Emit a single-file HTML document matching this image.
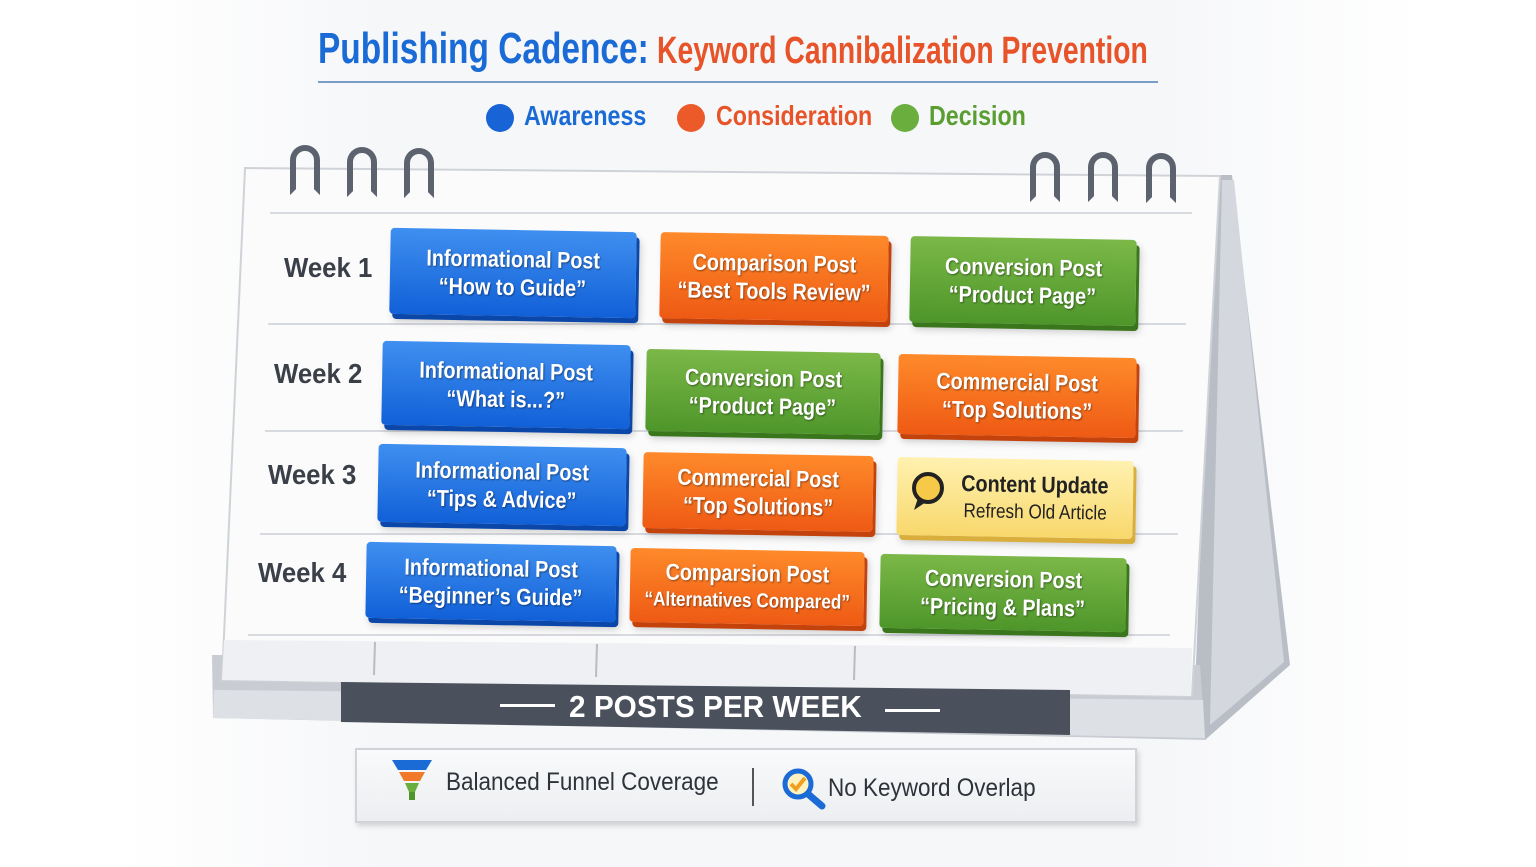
<!DOCTYPE html>
<html><head><meta charset="utf-8"><style>
*{margin:0;padding:0;box-sizing:border-box}
body{width:1536px;height:867px;overflow:hidden;background:#fff;font-family:"Liberation Sans",sans-serif;position:relative}
.bgpanel{position:absolute;left:120px;top:0;width:1300px;height:867px;background:linear-gradient(90deg,#fff,#f6f7f9 20%,#f6f7f9 80%,#fff)}
.abs{position:absolute}
.t{white-space:nowrap;transform-origin:left center;display:inline-block}
.card{position:absolute;border-radius:4px;color:#fff;font-weight:bold;text-align:center;display:flex;flex-direction:column;justify-content:center;align-items:center;text-shadow:1px 1px 2px rgba(0,0,0,.45);box-shadow:3px 5px 0 rgba(0,0,0,.25),4px 7px 8px rgba(0,0,0,.2)}
.card span{display:block;white-space:nowrap;font-size:23px;line-height:28px;transform:scaleX(.86)}
.b{background:linear-gradient(#3f8ff0,#1160d8);box-shadow:3px 5px 0 #0b47a8,4px 7px 8px rgba(0,0,0,.2)}
.o{background:linear-gradient(#ff8a2a,#ee5a14);box-shadow:3px 5px 0 #c4420c,4px 7px 8px rgba(0,0,0,.2)}
.g{background:linear-gradient(#7bb848,#4e962a);box-shadow:3px 5px 0 #3a761c,4px 7px 8px rgba(0,0,0,.2)}
.y{background:linear-gradient(#fff1b0,#f8d86c);box-shadow:3px 5px 0 #d9ae3c,4px 7px 8px rgba(0,0,0,.2);color:#222;text-shadow:none}
.wk{position:absolute;font-size:28px;font-weight:bold;color:#3a3f48;white-space:nowrap;transform:scaleX(.92);transform-origin:left}
.line{position:absolute;height:2px;background:#d6d9de}
.ring{position:absolute;width:30px;height:50px;border:6px solid #5c636e;border-bottom-color:transparent;border-radius:15px 15px 0 0}
</style></head><body>
<div class="bgpanel"></div>

<div class="abs" style="left:318px;top:24px;height:54px">
<span class="t" style="font-size:44px;font-weight:bold;color:#1a6bd6;transform:scaleX(.76);">Publishing Cadence:</span>
</div>
<div class="abs" style="left:657px;top:30px">
<span class="t" style="font-size:38px;font-weight:bold;color:#e8542a;transform:scaleX(.745);">Keyword Cannibalization Prevention</span>
</div>
<div class="abs" style="left:318px;top:81px;width:840px;height:2px;background:#7a9cc6"></div>

<div class="abs" style="left:486px;top:104px;width:28px;height:28px;border-radius:50%;background:#1863d6"></div>
<div class="abs" style="left:524px;top:100px"><span class="t" style="font-size:28px;font-weight:600;color:#1a6bd6;transform:scaleX(.83)">Awareness</span></div>
<div class="abs" style="left:677px;top:104px;width:28px;height:28px;border-radius:50%;background:#ec5a2a"></div>
<div class="abs" style="left:716px;top:100px"><span class="t" style="font-size:28px;font-weight:600;color:#e8542a;transform:scaleX(.83)">Consideration</span></div>
<div class="abs" style="left:891px;top:104px;width:28px;height:28px;border-radius:50%;background:#6aae3e"></div>
<div class="abs" style="left:929px;top:100px"><span class="t" style="font-size:28px;font-weight:600;color:#5a9e32;transform:scaleX(.83)">Decision</span></div>

<svg class="abs" style="left:0;top:0" width="1536" height="867">
<polygon points="1215,175 1232,175 1290,665 1205,740 1195,690" fill="#b9bec6"/>
<polygon points="1222,180 1234,180 1284,662 1210,725" fill="#d4d8de"/>
<polygon points="212,655 1200,665 1205,740 213,718" fill="#c9cdd3"/>
<polygon points="214,690 1203,700 1205,738 213,718" fill="#dde0e5"/>
<polygon points="245,168 1220,176 1192,696 222,680" fill="#fbfbfc" stroke="#cfd3d8" stroke-width="2"/>
<polygon points="224,640 1192,648 1191,696 222,680" fill="#eef0f3"/>
<line x1="375" y1="642" x2="374" y2="675" stroke="#bbb" stroke-width="2"/>
<line x1="597" y1="644" x2="596" y2="677" stroke="#bbb" stroke-width="2"/>
<line x1="855" y1="646" x2="854" y2="680" stroke="#bbb" stroke-width="2"/>
<polygon points="341,682 1070,690 1070,735 341,722" fill="#4a515c"/>
</svg>
<div class="abs" style="left:500px;top:704px;width:55px;height:3px;background:#fff"></div>
<div class="abs" style="left:885px;top:709px;width:55px;height:3px;background:#fff"></div>
<div class="abs" style="left:569px;top:689px"><span class="t" style="font-size:31px;font-weight:bold;color:#fff;transform:scaleX(.96)">2 POSTS PER WEEK</span></div>

<div class="ring" style="left:290px;top:145px"></div>
<div class="ring" style="left:347px;top:147px"></div>
<div class="ring" style="left:404px;top:148px"></div>
<div class="ring" style="left:1030px;top:152px"></div>
<div class="ring" style="left:1088px;top:152px"></div>
<div class="ring" style="left:1146px;top:153px"></div>

<div class="line" style="left:270px;top:212px;width:922px"></div>
<div class="line" style="left:268px;top:323px;width:918px"></div>
<div class="line" style="left:265px;top:430px;width:918px"></div>
<div class="line" style="left:260px;top:533px;width:918px"></div>
<div class="line" style="left:248px;top:634px;width:922px"></div>

<div class="wk" style="left:284px;top:252px">Week 1</div>
<div class="wk" style="left:274px;top:358px">Week 2</div>
<div class="wk" style="left:268px;top:459px">Week 3</div>
<div class="wk" style="left:258px;top:557px">Week 4</div>

<div class="card b" style="left:390px;top:230px;width:246px;height:86px;transform:rotate(1deg)"><span>Informational Post</span><span>“How to Guide”</span></div>
<div class="card o" style="left:660px;top:234px;width:228px;height:86px;transform:rotate(1deg)"><span>Comparison Post</span><span>“Best Tools Review”</span></div>
<div class="card g" style="left:910px;top:238px;width:226px;height:86px;transform:rotate(1deg)"><span>Conversion Post</span><span>“Product Page”</span></div>
<div class="card b" style="left:382px;top:343px;width:248px;height:84px;transform:rotate(1deg)"><span>Informational Post</span><span>“What is...?”</span></div>
<div class="card g" style="left:646px;top:351px;width:234px;height:82px;transform:rotate(1deg)"><span>Conversion Post</span><span>“Product Page”</span></div>
<div class="card o" style="left:898px;top:356px;width:238px;height:80px;transform:rotate(1deg)"><span>Commercial Post</span><span>“Top Solutions”</span></div>
<div class="card b" style="left:378px;top:446px;width:248px;height:78px;transform:rotate(1deg)"><span>Informational Post</span><span>“Tips &amp; Advice”</span></div>
<div class="card o" style="left:643px;top:454px;width:230px;height:76px;transform:rotate(1deg)"><span>Commercial Post</span><span>“Top Solutions”</span></div>
<div class="card y" style="left:897px;top:459px;width:236px;height:78px;transform:rotate(1deg);padding-left:40px"><span style="font-size:23px">Content Update</span><span style="font-size:20px;font-weight:normal">Refresh Old Article</span></div>
<svg class="abs" style="left:908px;top:470px" width="40" height="44"><circle cx="20" cy="18" r="14" fill="#f7c948" stroke="#222" stroke-width="4"/><path d="M10 28 L6 40 L18 32" fill="#222"/></svg>
<div class="card b" style="left:366px;top:544px;width:250px;height:76px;transform:rotate(1deg)"><span>Informational Post</span><span>“Beginner’s Guide”</span></div>
<div class="card o" style="left:630px;top:550px;width:234px;height:74px;transform:rotate(1deg)"><span>Comparsion Post</span><span style="font-size:20px">“Alternatives Compared”</span></div>
<div class="card g" style="left:880px;top:556px;width:246px;height:74px;transform:rotate(1deg)"><span>Conversion Post</span><span>“Pricing &amp; Plans”</span></div>

<div class="abs" style="left:355px;top:748px;width:782px;height:75px;background:linear-gradient(#f9fafb,#eceef1);border:2px solid #d0d4d9;box-shadow:2px 3px 5px rgba(0,0,0,.15)"></div>
<svg class="abs" style="left:390px;top:756px" width="46" height="46">
<polygon points="2,4 42,4 36,14 8,14" fill="#1a6bd6"/>
<polygon points="9,16 35,16 30,25 14,25" fill="#f07a2a"/>
<polygon points="15,27 29,27 25,36 19,36" fill="#6aae3e"/>
<rect x="19" y="36" width="6" height="8" fill="#4e962a"/>
</svg>
<div class="abs" style="left:446px;top:768px"><span class="t" style="font-size:25px;color:#2e333a;transform:scaleX(.9)">Balanced Funnel Coverage</span></div>
<div class="abs" style="left:752px;top:768px;width:2px;height:38px;background:#555"></div>
<svg class="abs" style="left:780px;top:766px" width="48" height="44">
<circle cx="18" cy="18" r="13" fill="#fdf2c0" stroke="#1a6bd6" stroke-width="5"/>
<path d="M11 18 L16 23 L25 12" stroke="#f0a020" stroke-width="4" fill="none"/>
<line x1="28" y1="28" x2="42" y2="40" stroke="#1a6bd6" stroke-width="7" stroke-linecap="round"/>
</svg>
<div class="abs" style="left:828px;top:774px"><span class="t" style="font-size:25px;color:#2e333a;transform:scaleX(.9)">No Keyword Overlap</span></div>
</body></html>
